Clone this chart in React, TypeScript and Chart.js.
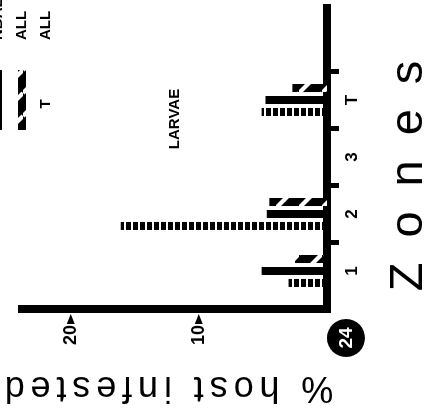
import React, { useEffect, useRef } from 'react';
import { Chart, registerables } from 'chart.js';

Chart.register(...registerables);

// ---- data ----
const zones = ['1', '2', '3', 'T'];
const dottedValues = [3.0, 16.1, 0, 5.1];
const solidValues = [5.1, 4.7, 0, 4.8];
const hatchedValues = [2.5, 4.5, 0, 2.7];
const yTickValues = [10, 20];
const legendLabels = ['NBALL', 'ALL', 'ALL'];
const legendKeys = ['dotted', 'hatched', 'T'];
const yTitle = '% host infested';
const xTitle = 'Zones';
const annotation = 'LARVAE';
const figureNumber = '24';

const FONT = "'Liberation Sans', Arial, sans-serif";
const W = 415; // drawn upright, then rotated -90deg
const H = 427;

function makeDotted(): CanvasPattern {
  const c = document.createElement('canvas');
  c.width = 8;
  c.height = 7;
  const g = c.getContext('2d')!;
  g.fillStyle = '#000';
  g.fillRect(0, 0, 8, 5);
  return g.createPattern(c, 'repeat')!;
}

function makeHatched(): CanvasPattern {
  const P = 23;
  const c = document.createElement('canvas');
  c.width = P;
  c.height = P;
  const g = c.getContext('2d')!;
  g.fillStyle = '#000';
  g.fillRect(0, 0, P, P);
  g.strokeStyle = '#fff';
  g.lineWidth = 4.2;
  for (const k of [-P, 0, P]) {
    g.beginPath();
    g.moveTo(k, 0);
    g.lineTo(k + P, P);
    g.stroke();
  }
  return g.createPattern(c, 'repeat')!;
}

function drawSpaced(ctx: CanvasRenderingContext2D, text: string, cx: number, by: number, spacing: number) {
  const chars = [...text];
  const widths = chars.map((ch) => ctx.measureText(ch).width);
  const total = widths.reduce((a, b) => a + b, 0) + spacing * (chars.length - 1);
  let x = cx - total / 2;
  ctx.textAlign = 'left';
  ctx.textBaseline = 'alphabetic';
  chars.forEach((ch, i) => {
    ctx.fillText(ch, x, by);
    x += widths[i] + spacing;
  });
}

export default function App() {
  const ref = useRef<HTMLCanvasElement>(null);

  useEffect(() => {
    const canvas = ref.current!;
    const dotted = makeDotted();
    const hatched = makeHatched();
    const fills: Record<string, CanvasPattern> = { dotted, hatched };

    const decor = {
      id: 'decor',
      afterDraw(chart: any) {
        const ctx: CanvasRenderingContext2D = chart.ctx;
        const { left } = chart.chartArea;
        const yScale = chart.scales.y;
        ctx.save();
        ctx.fillStyle = '#000';
        // arrow-head tick marks on value axis
        yScale.ticks.forEach((t: any) => {
          const py = yScale.getPixelForValue(t.value);
          ctx.beginPath();
          ctx.moveTo(left - 5, py);
          ctx.lineTo(left - 15, py - 4);
          ctx.lineTo(left - 15, py + 4);
          ctx.closePath();
          ctx.fill();
        });

        // value axis title (rotated)
        ctx.font = `36px ${FONT}`;
        ctx.save();
        ctx.translate(38, 169);
        ctx.rotate(-Math.PI / 2);
        drawSpaced(ctx, yTitle, 0, 0, 5.9);
        ctx.restore();

        // category axis title
        ctx.font = `47px ${FONT}`;
        drawSpaced(ctx, xTitle, 239, 422, 25);

        // annotation
        ctx.font = `bold 15px ${FONT}`;
        ctx.textAlign = 'center';
        ctx.textBaseline = 'middle';
        ctx.fillText(annotation, 296, 175);

        // legend
        legendLabels.forEach((lab, i) => {
          const cy = -2 + i * 24;
          const key = legendKeys[i];
          if (fills[key]) {
            ctx.fillStyle = fills[key];
            ctx.fillRect(285, cy - 4, 60, 8);
          } else {
            ctx.fillStyle = '#000';
            ctx.font = `bold 15px ${FONT}`;
            ctx.textAlign = 'center';
            ctx.textBaseline = 'middle';
            ctx.fillText(key, 311, cy);
          }
          ctx.fillStyle = '#000';
          ctx.font = `bold 15px ${FONT}`;
          ctx.textAlign = 'left';
          ctx.textBaseline = 'middle';
          ctx.fillText(lab, 375, cy);
        });

        // figure number badge
        ctx.beginPath();
        ctx.arc(77, 346, 19, 0, Math.PI * 2);
        ctx.fillStyle = '#000';
        ctx.fill();
        ctx.fillStyle = '#fff';
        ctx.font = `bold 19px ${FONT}`;
        ctx.textAlign = 'center';
        ctx.textBaseline = 'middle';
        ctx.fillText(figureNumber, 77, 347);
        ctx.restore();
      },
    };

    const toPts = (arr: number[]) => arr.map((v, i) => ({ x: i + 1, y: v }));

    const chart = new Chart(canvas, {
      type: 'bar',
      data: {
        datasets: [
          { label: 'dotted', data: toPts(dottedValues), backgroundColor: dotted, borderWidth: 0 },
          { label: 'solid', data: toPts(solidValues), backgroundColor: '#000', borderWidth: 0 },
          { label: 'hatched', data: toPts(hatchedValues), backgroundColor: hatched, borderWidth: 0 },
        ],
      } as any,
      options: {
        responsive: false,
        animation: false,
        layout: { padding: { top: 22, right: 5, left: 0, bottom: 0 } },
        datasets: { bar: { categoryPercentage: 0.63, barPercentage: 0.67 } },
        plugins: {
          legend: { display: false },
          tooltip: { enabled: false },
          title: { display: false },
        },
        scales: {
          x: {
            type: 'linear',
            min: 0.333,
            max: 5.667,
            offset: false,
            afterBuildTicks: (s: any) => {
              s.ticks = zones.map((_, i) => ({ value: i + 1 }));
            },
            afterFit: (s: any) => {
              s.height = 100;
            },
            grid: {
              display: true,
              drawOnChartArea: false,
              offset: true,
              tickLength: 12,
              tickWidth: 5,
              tickColor: (c: any) => (c.index === 0 ? 'rgba(0,0,0,0)' : '#000'),
            },
            border: { display: true, color: '#000', width: 8 },
            ticks: {
              callback: (_v: any, i: number) => zones[i],
              font: { family: FONT, size: 17, weight: 'bold' },
              color: '#000',
              padding: 3,
              maxRotation: 0,
              autoSkip: false,
            },
          },
          y: {
            type: 'linear',
            min: 0,
            max: 23.8,
            afterBuildTicks: (s: any) => {
              s.ticks = yTickValues.map((v) => ({ value: v }));
            },
            afterFit: (s: any) => {
              s.width = 106;
            },
            grid: {
              display: true,
              drawOnChartArea: false,
              tickLength: 12,
              tickColor: 'rgba(0,0,0,0)',
            },
            border: { display: true, color: '#000', width: 8 },
            ticks: {
              callback: (v: any) => String(v),
              font: { family: FONT, size: 18, weight: 'bold' },
              color: '#000',
              padding: 4,
            },
          },
        },
      } as any,
      plugins: [decor],
    });
    return () => chart.destroy();
  }, []);

  return (
    <div
      style={{
        position: 'fixed',
        left: 0,
        top: 0,
        width: 427,
        height: 415,
        overflow: 'hidden',
        background: '#fff',
      }}
    >
      <div
        style={{
          position: 'absolute',
          left: 0,
          top: 0,
          width: W,
          height: H,
          transformOrigin: '0 0',
          transform: `translate(0px, ${W}px) rotate(-90deg)`,
        }}
      >
        <canvas ref={ref} width={W} height={H} style={{ display: 'block' }} />
      </div>
    </div>
  );
}
